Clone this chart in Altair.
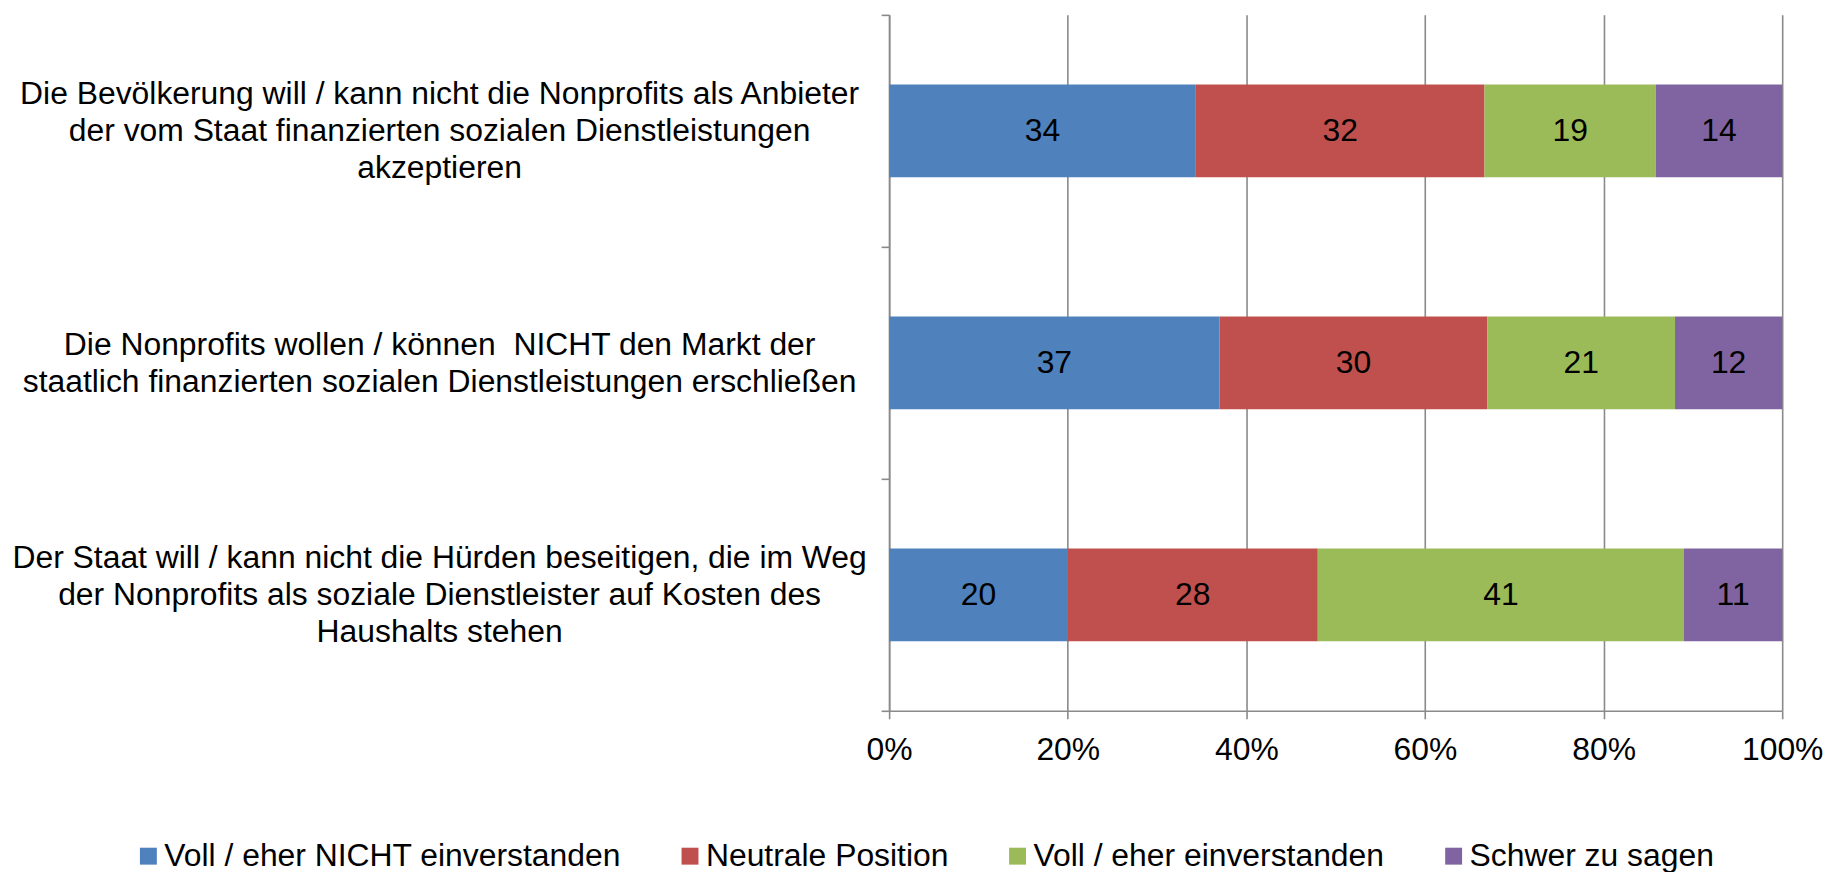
import altair as alt
import pandas as pd

categories = [
    "Die Bevölkerung will / kann nicht die Nonprofits als Anbieter|der vom Staat finanzierten sozialen Dienstleistungen|akzeptieren",
    "Die Nonprofits wollen / können \u00a0NICHT den Markt der|staatlich finanzierten sozialen Dienstleistungen erschließen",
    "Der Staat will / kann nicht die Hürden beseitigen, die im Weg|der Nonprofits als soziale Dienstleister auf Kosten des|Haushalts stehen",
]
series = [
    "Voll / eher NICHT einverstanden",
    "Neutrale Position",
    "Voll / eher einverstanden",
    "Schwer zu sagen",
]
values_nicht = [34, 37, 20]
values_neutral = [32, 30, 28]
values_einv = [19, 21, 41]
values_schwer = [14, 12, 11]
colors = ["#4F81BD", "#C0504D", "#9BBB59", "#8064A2"]
x_ticks = [0, 0.2, 0.4, 0.6, 0.8, 1.0]

rows = []
for si, (s, vals) in enumerate(zip(series, [values_nicht, values_neutral, values_einv, values_schwer])):
    for ci, c in enumerate(categories):
        rows.append({"cat": c, "series": s, "order": si, "value": vals[ci]})
df = pd.DataFrame(rows)

FONT = "Liberation Sans"
GRAY = "#8a8a8a"
LH = 37

x_axis = alt.Axis(
    values=x_ticks, format="%", labelFontSize=32, labelFont=FONT, labelColor="black",
    domainColor=GRAY, domainWidth=1.6, tickColor=GRAY, tickWidth=1.6, tickSize=8,
    gridColor=GRAY, gridWidth=1.6, labelPadding=16, title=None, labelFlush=False,
    labelOverlap=False,
)
y_axis = alt.Axis(
    tickBand="extent", labelExpr="split(datum.label, '|')", labelAlign="center",
    labelBaseline="middle", labelPadding=444, labelLimit=0, labelFontSize=32,
    labelFont=FONT, labelColor="black", labelLineHeight=LH, tickSize=8,
    labelOffset={
        "condition": {"test": "length(split(datum.value, '|')) == 3", "value": -LH},
        "value": -LH / 2,
    },
    domainColor=GRAY, domainWidth=1.6, tickColor=GRAY, tickWidth=1.6,
    title=None, grid=False,
)
x_scale = alt.Scale(domain=[0, 1], nice=False, zero=True)
y_scale = alt.Scale(paddingInner=0, paddingOuter=0)

base = alt.Chart(df).transform_stack(
    stack="value", as_=["v0", "v1"], groupby=["cat"],
    sort=[alt.SortField("order")], offset="normalize",
).transform_calculate(mid="(datum.v0 + datum.v1) / 2")

bars = base.mark_bar(height=alt.RelativeBandSize(band=0.4)).encode(
    x=alt.X("v0:Q", scale=x_scale, axis=x_axis),
    x2="v1:Q",
    y=alt.Y("cat:N", sort=categories, scale=y_scale, axis=y_axis),
    color=alt.Color(
        "series:N",
        scale=alt.Scale(domain=series, range=colors),
        legend=alt.Legend(
            orient="none", legendX=-760, legendY=829, direction="horizontal",
            title=None, labelFontSize=32, labelFont=FONT, labelColor="black",
            symbolType="square", symbolSize=289, symbolStrokeWidth=0,
            symbolOpacity=1, labelOffset=0, columnPadding=53, padding=0,
            labelLimit=0,
        ),
    ),
)

text = base.mark_text(fontSize=32, font=FONT, color="black", align="center", baseline="middle").encode(
    x=alt.X("mid:Q", scale=x_scale, axis=x_axis),
    y=alt.Y("cat:N", sort=categories, scale=y_scale, axis=y_axis),
    text="value:Q",
)

chart = alt.layer(bars, text).properties(
    width=897, height=699,
    autosize=alt.AutoSizeParams(type="none"),
    padding={"left": 885, "top": 5, "right": 44, "bottom": 160},
    background="white",
).configure_view(stroke=None)

chart.save("out.html", embed_options={"renderer": "svg", "actions": False})
